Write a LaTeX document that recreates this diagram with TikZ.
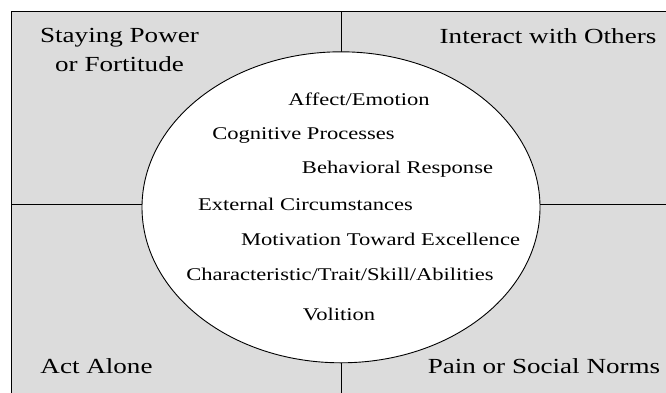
\documentclass[tikz,border=0pt]{standalone}
\usepackage{fontspec}
\setmainfont{Liberation Serif}[FakeStretch=1.26]
\usetikzlibrary{shapes.geometric}
\definecolor{panelgray}{HTML}{DCDCDC}
\tikzset{
  panel/.style={fill=panelgray},
  rule/.style={draw=black, line width=0.9pt},
  core/.style={ellipse, draw=black, line width=0.9pt, fill=white,
    minimum width=398pt, minimum height=311pt, inner sep=0pt},
  corner/.style={anchor=base, inner sep=0pt, align=center,
    font=\fontsize{21.5}{29}\selectfont},
  factor/.style={anchor=base, inner sep=0pt,
    font=\fontsize{17.9}{21}\selectfont},
}
\begin{document}
\begin{tikzpicture}[x=1pt,y=-1pt]
  \useasboundingbox (0,0) rectangle (666,392);
  \clip (0,0) rectangle (666,392);

  % frame and quadrant dividers
  \fill[panel] (11,11) rectangle (690,410);
  \draw[rule] (690,11) -- (11,11) -- (11,410);
  \coordinate (vtop) at (341,11);
  \coordinate (vbot) at (341,410);
  \coordinate (hleft) at (11,204);
  \coordinate (hright) at (690,204);
  \draw[rule] (vtop) -- (vbot);
  \draw[rule] (hleft) -- (hright);

  % central ellipse
  \node[core] (core) at (341,207.3) {};

  % quadrant labels (base of a two-line label is its last line)
  \node[corner] (stay) at (119.5,71.7) {Staying Power\\or Fortitude};
  \node[corner] (interact) at (548,43) {Interact with Others};
  \node[corner] (alone) at (96.5,373.5) {Act Alone};
  \node[corner] (pain) at (544,373.5) {Pain or Social Norms};

  % factors inside the ellipse
  \node[factor] (affect) at (359,105) {Affect/Emotion};
  \node[factor] (cognitive) at (303.5,139) {Cognitive Processes};
  \node[factor] (behavior) at (397.5,173) {Behavioral Response};
  \node[factor] (external) at (305.5,210) {External Circumstances};
  \node[factor] (motivation) at (380.5,245) {Motivation Toward Excellence};
  \node[factor] (trait) at (340,280) {Characteristic/Trait/Skill/Abilities};
  \node[factor] (volition) at (339,320) {Volition};
\end{tikzpicture}
\end{document}
